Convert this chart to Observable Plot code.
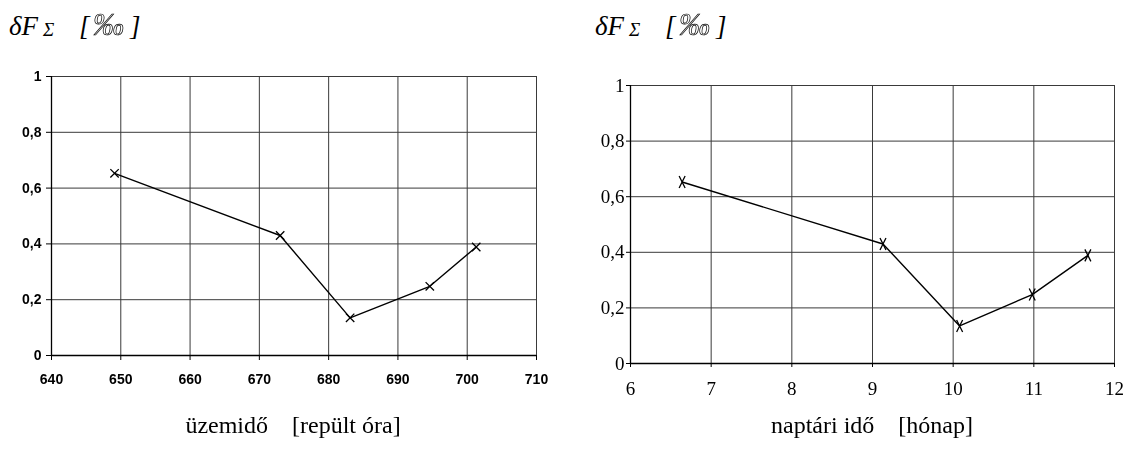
<!DOCTYPE html>
<html>
<head>
<meta charset="utf-8">
<script src="https://cdn.jsdelivr.net/npm/d3@7"></script>
<script src="https://cdn.jsdelivr.net/npm/@observablehq/plot@0.6"></script>
<style>
  html, body { margin: 0; padding: 0; background: #fff; }
  #wrap { position: relative; width: 1144px; height: 457px; overflow: hidden; }
  .panel { position: absolute; top: 0; }
  .ylab { position: absolute; top: 0px; }
  .xlab { position: absolute; top: 412px; font-family: "Liberation Serif", "Times New Roman", serif; font-size: 24px; white-space: pre; transform: translateX(-50%); }
  .permil { opacity: 0.99; will-change: transform; }
</style>
</head>
<body>
<div id="wrap">
  <svg class="ylab" style="left:9px" width="160" height="50">
    <text x="0" y="35" font-family="Liberation Serif, Times New Roman, serif" font-style="italic" font-size="27" fill="#000">δF</text>
    <text x="34" y="36" font-family="Liberation Serif, Times New Roman, serif" font-style="italic" font-size="19" fill="#000">Σ</text>
    <text x="70" y="35" font-family="Liberation Serif, Times New Roman, serif" font-style="italic" font-size="27" fill="#000">[</text>
    <text class="permil" x="84" y="35" font-family="Liberation Serif, Times New Roman, serif" font-style="italic" font-size="31" fill="#fff" stroke="#000" stroke-width="0.7">‰</text>
    <text x="121" y="35" font-family="Liberation Serif, Times New Roman, serif" font-style="italic" font-size="27" fill="#000">]</text>
  </svg>
  <svg class="ylab" style="left:595px" width="160" height="50">
    <text x="0" y="35" font-family="Liberation Serif, Times New Roman, serif" font-style="italic" font-size="27" fill="#000">δF</text>
    <text x="34" y="36" font-family="Liberation Serif, Times New Roman, serif" font-style="italic" font-size="19" fill="#000">Σ</text>
    <text x="70" y="35" font-family="Liberation Serif, Times New Roman, serif" font-style="italic" font-size="27" fill="#000">[</text>
    <text class="permil" x="84" y="35" font-family="Liberation Serif, Times New Roman, serif" font-style="italic" font-size="31" fill="#fff" stroke="#000" stroke-width="0.7">‰</text>
    <text x="121" y="35" font-family="Liberation Serif, Times New Roman, serif" font-style="italic" font-size="27" fill="#000">]</text>
  </svg>
  <div id="left" class="panel" style="left:0px"></div>
  <div id="right" class="panel" style="left:572px"></div>
  <div class="xlab" style="left:293px">üzemidő    [repült óra]</div>
  <div class="xlab" style="left:872px">naptári idő    [hónap]</div>
</div>
<script>
// ---- data ----
const flightHours = [649.1, 673.0, 683.1, 694.6, 701.3];
const months = [6.64, 9.13, 10.08, 10.98, 11.67];
const deltaF = [0.653, 0.430, 0.135, 0.248, 0.389];
const xTicksLeft = [640, 650, 660, 670, 680, 690, 700, 710];
const xTicksRight = [6, 7, 8, 9, 10, 11, 12];
const yTicks = [0, 0.2, 0.4, 0.6, 0.8, 1];

const fmt = d => String(d).replace(".", ",");

function crossSymbol(wf) {
  return {
    draw(context, size) {
      const s = Math.sqrt(size / Math.PI);
      const w = s * wf;
      context.moveTo(-w, -s); context.lineTo(w, s);
      context.moveTo(w, -s); context.lineTo(-w, s);
    }
  };
}

const leftData = flightHours.map((x, i) => ({x, y: deltaF[i]}));
const rightData = months.map((x, i) => ({x, y: deltaF[i]}));

const gridColor = "#3a3a3a";

function styleText(svg, family, size, weight) {
  d3.select(svg).selectAll("text")
    .style("font-family", family)
    .style("font-size", size)
    .style("font-weight", weight);
}

const left = Plot.plot({
  width: 572, height: 457,
  marginLeft: 51, marginRight: 36, marginTop: 76, marginBottom: 102,
  style: "background: transparent; color: #000;",
  x: {domain: [640, 710], ticks: xTicksLeft, tickSize: 5, tickPadding: 14, tickFormat: d => String(d), label: null},
  y: {domain: [0, 1], ticks: yTicks, tickSize: 5, tickPadding: 5, tickFormat: fmt, label: null},
  marks: [
    Plot.ruleX(xTicksLeft, {stroke: gridColor, strokeWidth: 1}),
    Plot.ruleY(yTicks, {stroke: gridColor, strokeWidth: 1}),
    Plot.ruleY([0], {stroke: "#000", strokeWidth: 1.3}),
    Plot.ruleX([640], {stroke: "#000", strokeWidth: 1.3}),
    Plot.line(leftData, {x: "x", y: "y", stroke: "#000", strokeWidth: 1.4}),
    Plot.dot(leftData, {x: "x", y: "y", symbol: crossSymbol(1), r: 4.2, stroke: "#000", strokeWidth: 1.3, fill: "none"})
  ]
});
styleText(left, "'Liberation Sans', Arial, sans-serif", "14px", "bold");
document.getElementById("left").appendChild(left);

const right = Plot.plot({
  width: 572, height: 457,
  marginLeft: 58, marginRight: 30, marginTop: 85, marginBottom: 94,
  style: "background: transparent; color: #000;",
  x: {domain: [6, 12], ticks: xTicksRight, tickSize: 4, tickPadding: 14, tickFormat: d => String(d), label: null},
  y: {domain: [0, 1], ticks: yTicks, tickSize: 4, tickPadding: 2, tickFormat: fmt, label: null},
  marks: [
    Plot.ruleX(xTicksRight, {stroke: gridColor, strokeWidth: 1}),
    Plot.ruleY(yTicks, {stroke: gridColor, strokeWidth: 1}),
    Plot.ruleY([0], {stroke: "#000", strokeWidth: 1.3}),
    Plot.ruleX([6], {stroke: "#000", strokeWidth: 1.3}),
    Plot.line(rightData, {x: "x", y: "y", stroke: "#000", strokeWidth: 1.4}),
    Plot.dot(rightData, {x: "x", y: "y", symbol: crossSymbol(0.5), r: 6, stroke: "#000", strokeWidth: 1.3, fill: "none"})
  ]
});
styleText(right, "'Liberation Serif', 'Times New Roman', serif", "19px", "normal");
document.getElementById("right").appendChild(right);
</script>
</body>
</html>
